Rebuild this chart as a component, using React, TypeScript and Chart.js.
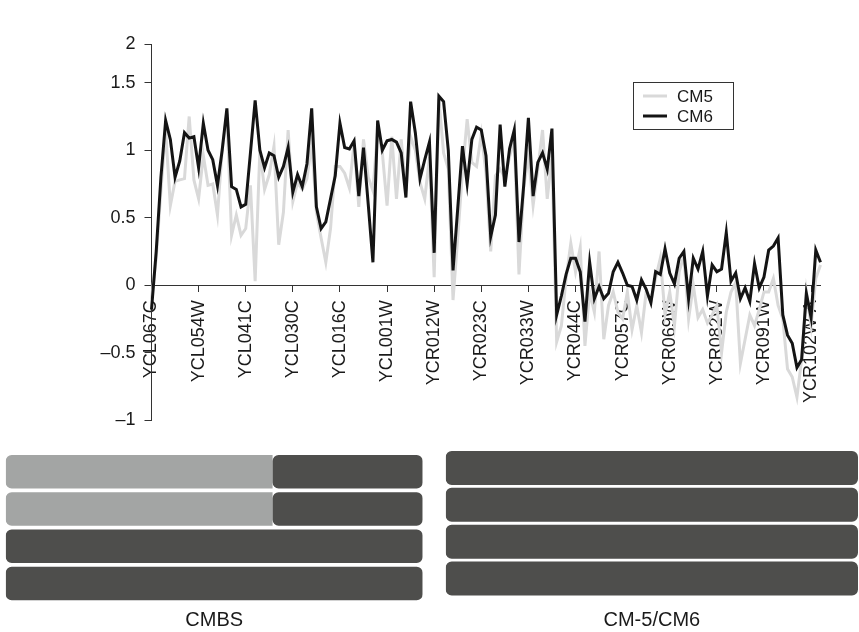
import React, { useEffect, useRef } from 'react';
import { Chart, registerables } from 'chart.js';

Chart.register(...registerables);

const FONT = "'Liberation Sans', Arial, Helvetica, sans-serif";

// x-axis tick labels (one every 10 genes)
const tickLabels = [
  'YCL067C', 'YCL054W', 'YCL041C', 'YCL030C', 'YCL016C', 'YCL001W', 'YCR012W', 'YCR023C',
  'YCR033W', 'YCR044C', 'YCR057C', 'YCR069W', 'YCR082W', 'YCR091W', 'YCR102W-A',
];

// CM5 series (light grey)
const cm5 = [
  -0.10, 0.20, 0.70, 1.15, 0.59, 0.77, 0.78, 0.79, 1.25, 0.78,
  0.64, 0.96, 0.74, 0.75, 0.52, 1.00, 1.27, 0.37, 0.52, 0.37,
  0.42, 0.74, 0.03, 1.00, 0.71, 0.82, 1.03, 0.30, 0.54, 1.15,
  0.62, 0.76, 0.71, 0.79, 1.05, 0.54, 0.35, 0.17, 0.42, 0.88,
  0.88, 0.83, 0.72, 1.05, 0.58, 1.08, 0.80, 0.70, 1.15, 0.98,
  0.59, 1.10, 0.64, 1.08, 0.70, 1.10, 1.00, 0.76, 0.64, 0.95,
  0.06, 1.38, 0.98, 0.86, -0.11, 0.35, 0.84, 1.23, 0.91, 0.88,
  1.12, 0.83, 0.25, 0.81, 0.86, 0.80, 0.95, 1.08, 0.08, 0.72,
  0.96, 0.59, 0.86, 1.15, 0.64, 0.96, -0.42, -0.30, 0.05, 0.31,
  0.10, 0.28, -0.45, -0.05, -0.20, 0.25, -0.40, -0.15, -0.05, -0.20,
  -0.25, -0.05, -0.33, -0.15, -0.35, -0.05, -0.12, 0.05, 0.20, -0.22,
  -0.05, -0.30, 0.10, 0.22, -0.25, 0.00, -0.24, -0.18, -0.28, -0.22,
  -0.15, -0.50, -0.20, -0.05, 0.02, -0.58, -0.40, -0.22, -0.30, -0.18,
  -0.05, -0.05, 0.05, -0.15, -0.25, -0.62, -0.68, -0.83, -0.55, -0.05,
  -0.30, 0.05, 0.15,
];

// CM6 series (black)
const cm6 = [
  -0.18, 0.25, 0.80, 1.22, 1.08, 0.80, 0.92, 1.13, 1.09, 1.10,
  0.87, 1.20, 1.00, 0.93, 0.74, 1.00, 1.31, 0.73, 0.71, 0.58,
  0.60, 0.98, 1.37, 1.00, 0.87, 0.98, 0.96, 0.80, 0.88, 1.02,
  0.69, 0.82, 0.73, 0.90, 1.31, 0.58, 0.42, 0.47, 0.64, 0.81,
  1.20, 1.02, 1.01, 1.07, 0.66, 1.02, 0.60, 0.17, 1.22, 1.00,
  1.07, 1.08, 1.06, 0.98, 0.65, 1.36, 1.13, 0.79, 0.93, 1.06,
  0.24, 1.40, 1.36, 1.00, 0.11, 0.57, 1.03, 0.75, 1.08, 1.17,
  1.15, 0.96, 0.36, 0.52, 1.19, 0.73, 1.01, 1.15, 0.32, 0.74,
  1.24, 0.66, 0.91, 0.98, 0.86, 1.16, -0.22, -0.08, 0.08, 0.20,
  0.20, 0.10, -0.27, 0.17, -0.10, -0.01, -0.10, -0.06, 0.10, 0.17,
  0.09, 0.00, -0.01, -0.11, 0.04, -0.03, -0.13, 0.10, 0.08, 0.27,
  0.09, 0.01, 0.20, 0.25, -0.10, 0.20, 0.12, 0.25, -0.08, 0.15,
  0.10, 0.12, 0.39, 0.03, 0.09, -0.10, -0.02, -0.12, 0.16, -0.02,
  0.06, 0.26, 0.29, 0.35, -0.22, -0.37, -0.43, -0.61, -0.55, -0.06,
  -0.24, 0.26, 0.17,
];

// one category per gene; only every 10th carries a printed name
const categories = cm6.map((_, i) => (i % 10 === 0 ? tickLabels[i / 10] ?? '' : ''));

// y-axis ticks as printed in the figure (top tick labelled "2")
const Y_TOP = 1.787;
const yTickValues = [-1, -0.5, 0, 0.5, 1, 1.5, Y_TOP];
const yTickLabels = ['\u20131', '\u20130.5', '0', '0.5', '1', '1.5', '2'];

// schematic bars below the chart (fractions of the bar length)
const rowLabels = ['r1', 'r2', 'r3', 'r4'];
const cmbsLight = [[0, 0.64], [0, 0.64], null, null];
const cmbsDark = [[0.64, 1], [0.64, 1], [0, 1], [0, 1]];
const cm56Dark = [[0, 1], [0, 1], [0, 1], [0, 1]];

const LIGHT_BAR = '#a3a5a4';
const DARK_BAR = '#4e4e4c';

const legendPlugin = {
  id: 'boxLegend',
  afterDraw(chart: any) {
    const { ctx } = chart;
    const x = 633;
    const y = 82;
    const w = 100;
    const h = 47;
    ctx.save();
    ctx.fillStyle = '#ffffff';
    ctx.fillRect(x, y, w, h);
    ctx.strokeStyle = '#333333';
    ctx.lineWidth = 1;
    ctx.strokeRect(x + 0.5, y + 0.5, w, h);
    chart.data.datasets.forEach((ds: any, i: number) => {
      const cy = y + 14 + i * 20;
      ctx.strokeStyle = ds.borderColor;
      ctx.lineWidth = 3;
      ctx.beginPath();
      ctx.moveTo(x + 10, cy);
      ctx.lineTo(x + 34, cy);
      ctx.stroke();
      ctx.fillStyle = '#1a1a1a';
      ctx.font = `17px ${FONT}`;
      ctx.textBaseline = 'middle';
      ctx.textAlign = 'left';
      ctx.fillText(ds.label, x + 44, cy + 1);
    });
    ctx.restore();
  },
};

function lineConfig(): any {
  return {
    type: 'line',
    data: {
      labels: categories,
      datasets: [
        { label: 'CM5', data: cm5, borderColor: '#d9d9d9', borderWidth: 3, pointRadius: 0, tension: 0, order: 2 },
        { label: 'CM6', data: cm6, borderColor: '#141414', borderWidth: 3, pointRadius: 0, tension: 0, order: 1 },
      ],
    },
    options: {
      responsive: true,
      maintainAspectRatio: false,
      animation: false,
      events: [],
      layout: { padding: { left: 0, top: 44, right: 38.5, bottom: 17 } },
      plugins: { legend: { display: false }, tooltip: { enabled: false }, title: { display: false } },
      scales: {
        x: {
          type: 'category',
          position: { y: 0 },
          offset: false,
          afterBuildTicks: (s: any) => {
            s.ticks = s.ticks.filter((t: any) => categories[t.value] !== '');
          },
          grid: { drawOnChartArea: false, drawTicks: true, tickLength: 6, color: '#333333' },
          border: { display: true, color: '#333333', width: 1 },
          ticks: {
            autoSkip: false,
            minRotation: 90,
            maxRotation: 90,
            padding: 9,
            color: '#1a1a1a',
            font: { family: FONT, size: 18 },
          },
        },
        y: {
          type: 'linear',
          min: -1,
          max: Y_TOP,
          afterBuildTicks: (s: any) => {
            s.ticks = yTickValues.map((v) => ({ value: v }));
          },
          afterFit: (s: any) => {
            s.width = 151.5;
          },
          grid: { drawOnChartArea: false, drawTicks: true, tickLength: 7, color: '#333333' },
          border: { display: true, color: '#333333', width: 1 },
          ticks: {
            callback: (_v: any, i: number) => yTickLabels[i],
            padding: 9,
            color: '#1a1a1a',
            font: { family: FONT, size: 18 },
          },
        },
      },
    },
    plugins: [legendPlugin],
  };
}

function barConfig(light: any[] | null, dark: any[], title: string, pad: any, pct: number): any {
  const datasets: any[] = [
    {
      data: dark,
      backgroundColor: DARK_BAR,
      borderRadius: 6,
      borderSkipped: false,
      grouped: false,
      categoryPercentage: 1,
      barPercentage: pct,
    },
  ];
  if (light) {
    datasets.push({
      data: light,
      backgroundColor: LIGHT_BAR,
      borderRadius: { topLeft: 6, bottomLeft: 6, topRight: 0, bottomRight: 0 },
      borderSkipped: false,
      grouped: false,
      categoryPercentage: 1,
      barPercentage: pct,
    });
  }
  return {
    type: 'bar',
    data: { labels: rowLabels, datasets },
    options: {
      indexAxis: 'y',
      responsive: true,
      maintainAspectRatio: false,
      animation: false,
      events: [],
      layout: { padding: pad },
      scales: {
        x: { display: false, min: 0, max: 1 },
        y: { display: false },
      },
      plugins: {
        legend: { display: false },
        tooltip: { enabled: false },
        title: {
          display: true,
          text: title,
          position: 'bottom',
          color: '#1a1a1a',
          font: { family: FONT, size: 20, weight: 'normal' },
          padding: { top: pad.titleTop, bottom: 0 },
        },
      },
    },
  };
}

export default function App() {
  const lineRef = useRef<HTMLCanvasElement>(null);
  const leftRef = useRef<HTMLCanvasElement>(null);
  const rightRef = useRef<HTMLCanvasElement>(null);

  useEffect(() => {
    const charts: Chart[] = [];
    if (lineRef.current) charts.push(new Chart(lineRef.current, lineConfig()));
    if (leftRef.current)
      charts.push(
        new Chart(
          leftRef.current,
          barConfig(cmbsLight, cmbsDark, 'CMBS', { left: 5.7, right: 7.3, top: 13.2, bottom: 0, titleTop: 6 }, 0.9)
        )
      );
    if (rightRef.current)
      charts.push(
        new Chart(
          rightRef.current,
          barConfig(null, cm56Dark, 'CM-5/CM6', { left: 15.7, right: 1, top: 9.5, bottom: 0, titleTop: 11 }, 0.92)
        )
      );
    return () => charts.forEach((c) => c.destroy());
  }, []);

  return (
    <div style={{ position: 'absolute', left: 0, top: 0, width: 859, height: 632, background: '#ffffff', overflow: 'hidden' }}>
      <div style={{ position: 'absolute', left: 0, top: 0, width: 859, height: 440 }}>
        <canvas ref={lineRef} />
      </div>
      <div style={{ position: 'absolute', left: 0, top: 440, width: 430, height: 192 }}>
        <canvas ref={leftRef} />
      </div>
      <div style={{ position: 'absolute', left: 430, top: 440, width: 429, height: 192 }}>
        <canvas ref={rightRef} />
      </div>
    </div>
  );
}
